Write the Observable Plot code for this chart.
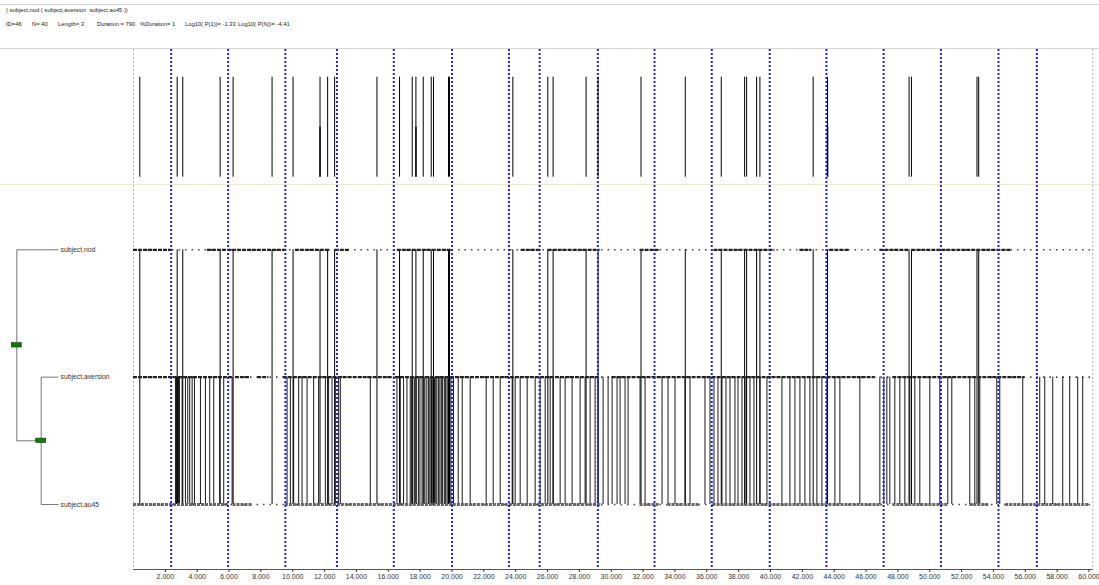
<!DOCTYPE html>
<html><head><meta charset="utf-8">
<script src="https://cdn.jsdelivr.net/npm/d3@7"></script>
<script src="https://cdn.jsdelivr.net/npm/@observablehq/plot@0.6"></script>
<style>
html,body{margin:0;padding:0;background:#fff;}
body{width:1099px;height:585px;position:relative;overflow:hidden;font-family:"Liberation Sans",Arial,sans-serif;color:#222;}
.hr{position:absolute;left:0;width:1099px;height:0;border-top:1px solid #d4d4d4;}
.t{position:absolute;font-size:5.8px;white-space:pre;line-height:1;}
#top{position:absolute;left:0;top:49px;width:1099px;height:135px;border-bottom:1px solid #f4e8cc;}
#main{position:absolute;left:0;top:185px;}
#tree{position:absolute;left:0;top:185px;}
svg{display:block;overflow:visible;}
</style></head><body>
<div class="hr" style="top:4px"></div>
<div class="t" style="left:6px;top:8px">( subject,nod ( subject,aversion  subject,au45 ))</div>
<div class="t" style="left:6px;top:22px">ID=46</div>
<div class="t" style="left:32px;top:22px">N= 40</div>
<div class="t" style="left:58px;top:22px">Length= 3</div>
<div class="t" style="left:97px;top:22px">Duration = 790</div>
<div class="t" style="left:140px;top:22px">%Duration= 1</div>
<div class="t" style="left:185px;top:22px">Log10( P(1))= -1.33</div>
<div class="t" style="left:238px;top:22px">Log10( P(N))= -4.41</div>
<div class="hr" style="top:48px"></div>
<div id="top"></div>
<div id="main"></div>
<div id="tree"></div>
<script>
// ---------- DATA ----------
const rows = ["subject,nod", "subject,aversion", "subject,au45"];
const patternTree = ["subject,nod", ["subject,aversion", "subject,au45"]];

// boundaries between concatenated observation files (blue dotted lines)
const fileBounds = [2365, 5940, 9536, 12780, 16343, 20000, 23576, 25502, 29159, 32716, 36311, 39950, 43507, 47103, 50703, 54316, 56725];
const edgeBounds = [0, 60238];

// occurrences of the full pattern (top panel bars)
const patternTimes = [395, 2742, 3093, 5439, 6255, 8701, 10019, 11713, 12190, 12629, 15289, 16706, 17503, 17735, 18193, 18695, 18839, 19780, 19843, 23821, 26017, 26349, 28419, 29172, 31870, 34649, 36908, 38375, 38501, 39128, 39335, 42679, 43582, 48701, 48852, 52968, 53074];
const overlapTimes = [11713, 17735, 43582];

// occurrences of the sub-pattern (subject,aversion subject,au45)
const innerTimes = [2635, 2698, 2761, 2823, 2886, 3055, 3262, 3407, 3532, 3683, 3827, 4204, 4517, 4787, 5038, 5414, 5665, 6193,
  9643, 9850, 10057, 10371, 10584, 10898, 11312, 11626, 12046, 12253, 12467, 12674, 12880, 12987, 14869,
  16544, 16752, 16959, 17172, 17379, 17470, 17540, 17655, 17748, 17890, 17985, 18120, 18240, 18300, 18420, 18530, 18610, 18700, 18790, 18905, 18980, 19050, 19160, 19240, 19330, 19410, 19520, 19600, 19690, 19760, 19850, 19930, 20096, 20390,
  20641, 21143, 22147, 22586, 23026, 23779, 23967, 24280, 24720, 25222, 25535, 25849, 26163, 26351, 26790, 27104, 27543, 28045, 28358, 28672, 28986, 29174, 29488, 29802, 30053, 30366, 30554, 30868, 31056, 31809, 32123,
  33189, 33566, 34005, 34632, 34946, 35887, 36201, 36452, 36703, 36954, 37205, 37456, 37769, 37958, 38209, 38460, 38711, 38962, 39338, 39777,
  40718, 41220, 41534, 41848, 42161, 42475, 42914, 43228, 43542, 44044, 44357, 45612, 46867, 47118, 47306, 47494, 47808, 48122, 48436, 48749, 49063, 49377, 50004, 50632, 51134, 51385,
  52514, 52828, 53142, 54208, 54397, 55840, 56906, 57220, 57722, 58349, 58788, 59290, 59604];

// stretches where each event type occurs densely
const nodDense = [[0, 2447], [4643, 9662], [10164, 12360], [12674, 13615], [16563, 20014], [24343, 25535], [26037, 29300], [31809, 33064], [36452, 40279], [41848, 42601], [43730, 44985], [46867, 48749], [48875, 55148]];
const aversionDense = [[0, 6200], [6400, 7300], [7800, 8500], [9400, 16300], [16450, 29300], [30053, 46553], [47682, 55964]];
const au45Dense = [[0, 5960], [6247, 7502], [9536, 29425], [31809, 33064], [33566, 35574], [36389, 47000], [47682, 51196], [52514, 53769], [54773, 60038]];

const tickValues = [2000, 4000, 6000, 8000, 10000, 12000, 14000, 16000, 18000, 20000, 22000, 24000, 26000, 28000, 30000, 32000, 34000, 36000, 38000, 40000, 42000, 44000, 46000, 48000, 50000, 52000, 54000, 56000, 58000, 60000];

// ---------- CHART ----------
const W = 1099;
const xScale = {domain: [0, 60220], axis: null};
const fmt = d => d3.format(",")(d).replace(/,/g, ".");
const font = {fontFamily: "Liberation Sans, Arial, sans-serif", background: "transparent", color: "#333"};

// top panel
const topPlot = Plot.plot({
  width: W, height: 135, marginLeft: 133, marginRight: 7, marginTop: 0, marginBottom: 0,
  style: font,
  x: xScale,
  y: {domain: [0, 1], range: [127.7, 27.7], axis: null},
  marks: [
    Plot.ruleX(edgeBounds, {stroke: "#a9a4f0", strokeWidth: 1, strokeDasharray: "2,2"}),
    Plot.ruleX(fileBounds, {stroke: "#1f1fff", strokeWidth: 2, strokeDasharray: "2,2"}),
    Plot.ruleX(patternTimes, {y1: 0, y2: 1, stroke: "#000", strokeWidth: 1}),
    Plot.ruleX(overlapTimes, {y1: 0, y2: 0.5, stroke: "#111", strokeWidth: 1.6})
  ]
});
document.getElementById("top").appendChild(topPlot);

// main panel
const denseRows = [
  ...nodDense.map(d => ({row: 0, x1: d[0], x2: d[1]})),
  ...aversionDense.map(d => ({row: 1, x1: d[0], x2: d[1]}))
];
const denseAu = au45Dense.map(d => ({row: 2, x1: d[0], x2: d[1]}));
const yMain = {domain: [0, 2], range: [64.3, 319], axis: null};

const mainPlot = Plot.plot({
  width: W, height: 400, marginLeft: 133, marginRight: 7, marginTop: 0, marginBottom: 16,
  style: font,
  x: xScale,
  y: yMain,
  marks: [
    Plot.ruleX(edgeBounds, {stroke: "#a9a4f0", strokeWidth: 1, strokeDasharray: "2,2"}),
    Plot.ruleY(rows.map((r, i) => i), {stroke: "#444", strokeWidth: 1.6, strokeDasharray: "1.5,5"}),
    Plot.ruleX(innerTimes, {y1: 1, y2: 2, stroke: "#000", strokeWidth: 1, strokeOpacity: 0.9}),
    Plot.ruleX(patternTimes, {y1: 0, y2: 2, stroke: "#000", strokeWidth: 1}),
    Plot.ruleY(denseRows, {y: "row", x1: "x1", x2: "x2", stroke: "#222", strokeWidth: 2.2, strokeDasharray: "4,1"}),
    Plot.ruleY(denseAu, {y: "row", x1: "x1", x2: "x2", stroke: "#666", strokeWidth: 3, strokeDasharray: "3,1"}),
    Plot.ruleX(fileBounds, {stroke: "#1f1fff", strokeWidth: 2, strokeDasharray: "2,2"}),
    Plot.frame({anchor: "bottom", stroke: "#555"}),
    Plot.axisX({ticks: tickValues, tickFormat: fmt, tickSize: 3, tickPadding: 2, fontSize: 7, fill: "#333"})
  ]
});
document.getElementById("main").appendChild(mainPlot);

// pattern tree (dendrogram)
const edges = [], nodes = [], leaves = [];
const leafX = 58;
function lay(n, depth) {
  if (typeof n === "string") {
    const y = rows.indexOf(n);
    leaves.push({name: n, x: leafX, y});
    return {x: leafX, y};
  }
  const x = 16.3 + 24.4 * depth;
  const kids = n.map(c => lay(c, depth + 1));
  const y = d3.mean(kids, k => k.y);
  edges.push({x1: x, y1: d3.min(kids, k => k.y), x2: x, y2: d3.max(kids, k => k.y)});
  kids.forEach(k => edges.push({x1: x, y1: k.y, x2: k.x, y2: k.y}));
  nodes.push({x, y});
  return {x, y};
}
lay(patternTree, 0);

const treePlot = Plot.plot({
  width: 133, height: 400, marginLeft: 0, marginRight: 0, marginTop: 0, marginBottom: 16,
  style: font,
  x: {domain: [0, 133], range: [0, 133], axis: null},
  y: yMain,
  marks: [
    Plot.link(edges, {x1: "x1", y1: "y1", x2: "x2", y2: "y2", stroke: "#777", strokeWidth: 1}),
    Plot.rect(nodes, {x1: d => d.x - 5, x2: d => d.x + 5, y1: "y", y2: "y", insetTop: -2.2, insetBottom: -2.2, fill: "#0a7d0a", stroke: "#0b3d0b", strokeWidth: 0.6}),
    Plot.text(leaves, {x: d => d.x + 2, y: "y", text: "name", textAnchor: "start", fontSize: 6.8, fill: "#333"})
  ]
});
document.getElementById("tree").appendChild(treePlot);
</script>
</body></html>
